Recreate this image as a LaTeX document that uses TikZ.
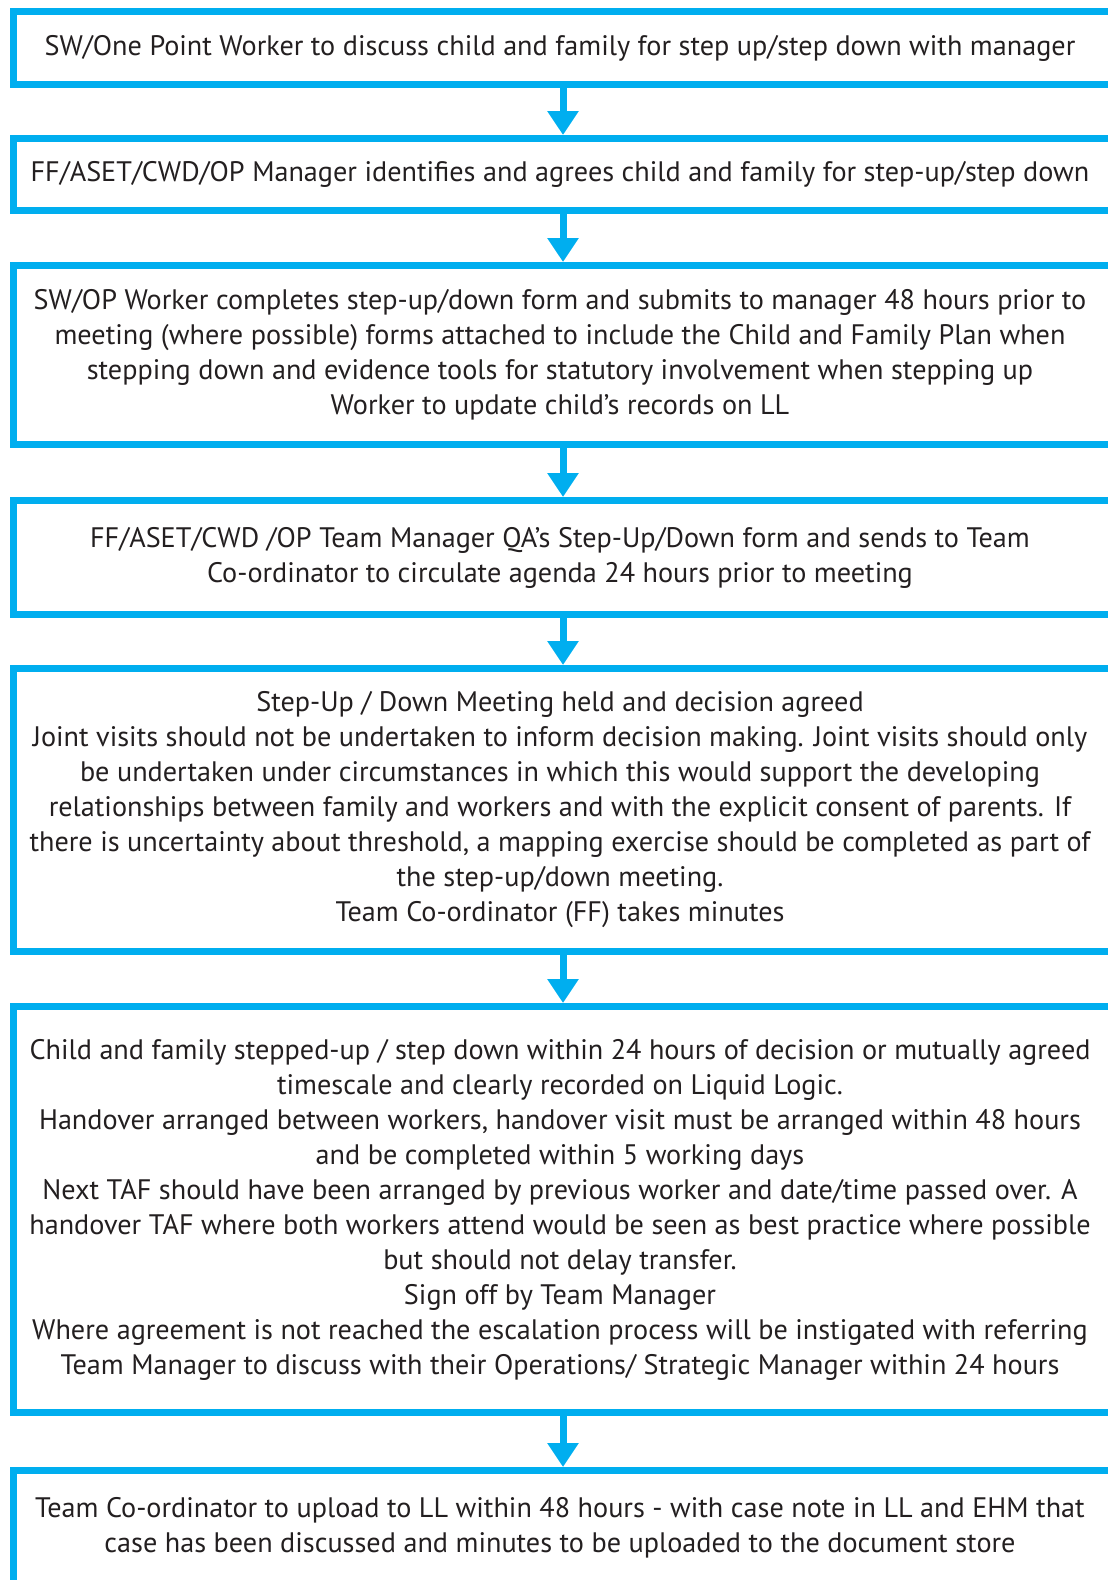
\documentclass[tikz,border=0pt]{standalone}
\usepackage{fontspec}
\setmainfont{PT Sans}
\usetikzlibrary{arrows.meta}
\definecolor{boxblue}{RGB}{0,174,239}
\definecolor{textgrey}{RGB}{35,31,32}

\begin{document}
\begin{tikzpicture}[x=0.5pt,y=-0.5pt,
		stepbox/.style={draw=boxblue,line width=3.5pt,anchor=west,outer sep=0pt,
			inner xsep=0pt,inner ysep=0pt,text=textgrey,
			font=\fontsize{14.1pt}{17.5pt}\selectfont,
			execute at begin node={\begin{minipage}{546.5pt}\centering},
			execute at end node={\end{minipage}\hspace{10pt}}},
		steparrow/.style={draw=boxblue,line width=3.5pt,
			-{Triangle[length=12pt,width=15pt]},shorten >=1.75pt}]
			\useasboundingbox (0,0) rectangle (1108,1580);
			\clip (0,0) rectangle (1108,1580);
			\node[stepbox,minimum height=36.5pt](b1) at (13.5,48)
			{SW/One Point Worker to discuss child and family for step up/step down with manager};
			\node[stepbox,minimum height=36pt](b2) at (13.5,174.5)
			{FF/ASET/CWD/OP Manager identifies and agrees child and family for step-up/step down};
			\node[stepbox,minimum height=89.5pt](b3) at (13.5,355)
			{SW/OP Worker completes step-up/down form and submits to manager 48 hours prior to\\
			meeting (where possible) forms attached to include the Child and Family Plan when\\
			stepping down and evidence tools for statutory involvement when stepping up\\
			Worker to update child’s records on LL};
			\node[stepbox,minimum height=57pt](b4) at (13.5,557.5)
			{FF/ASET/CWD /OP Team Manager QA’s Step-Up/Down form and sends to Team\\
			Co-ordinator to circulate agenda 24 hours prior to meeting};
			\node[stepbox,minimum height=141.5pt](b5) at (13.5,810)
			{Step-Up / Down Meeting held and decision agreed\\
			Joint visits should not be undertaken to inform decision making. Joint visits should only\\
			be undertaken under circumstances in which this would support the developing\\
			relationships between family and workers and with the explicit consent of parents. If\\
			there is uncertainty about threshold, a mapping exercise should be completed as part of\\
			the step-up/down meeting.\\
			Team Co-ordinator (FF) takes minutes};
			\node[stepbox,minimum height=203pt](b6) at (13.5,1209.5)
			{Child and family stepped-up / step down within 24 hours of decision or mutually agreed\\
			timescale and clearly recorded on Liquid Logic.\\
			Handover arranged between workers, handover visit must be arranged within 48 hours\\
			and be completed within 5 working days\\
			Next TAF should have been arranged by previous worker and date/time passed over. A\\
			handover TAF where both workers attend would be seen as best practice where possible\\
			but should not delay transfer.\\
			Sign off by Team Manager\\
			Where agreement is not reached the escalation process will be instigated with referring\\
			Team Manager to discuss with their Operations/ Strategic Manager within 24 hours};
			\node[stepbox,minimum height=57pt](b7) at (13.5,1527.5)
			{Team Co-ordinator to upload to LL within 48 hours - with case note in LL and EHM that\\
			case has been discussed and minutes to be uploaded to the document store};
			\foreach \a/\b in {b1/b2,b2/b3,b3/b4,b4/b5,b5/b6,b6/b7}
			\draw[steparrow] ([xshift=-3.5pt]\a.south)--([xshift=-3.5pt]\b.north);
		\end{tikzpicture}
\end{document}
